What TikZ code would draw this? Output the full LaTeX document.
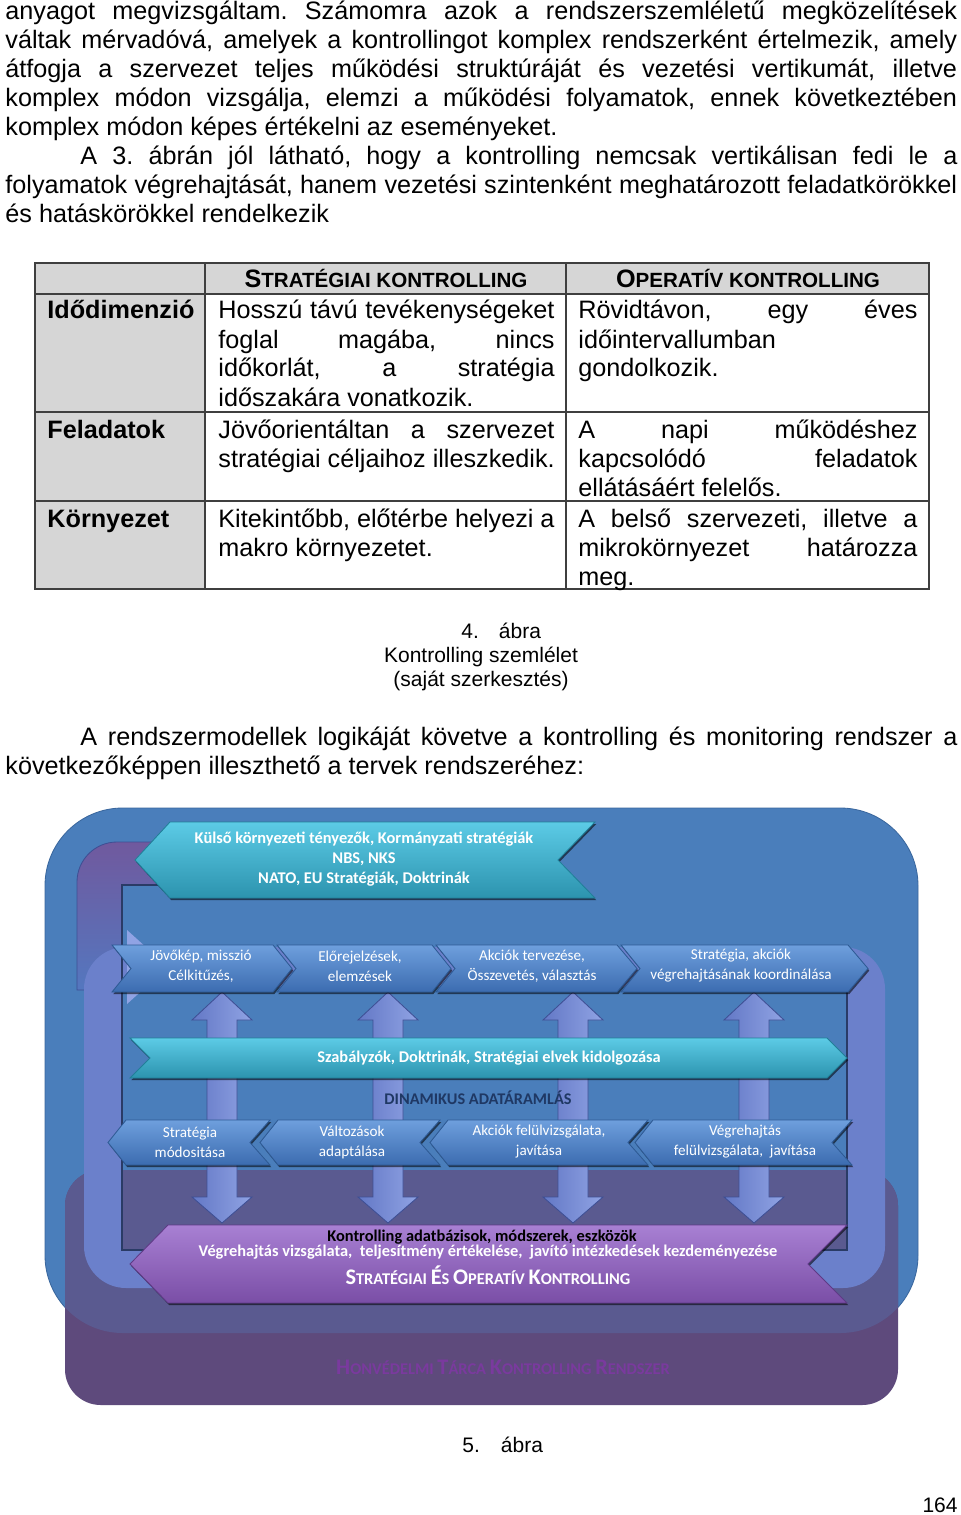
\documentclass[tikz,border=0pt]{standalone}
\usepackage{fontspec}
\setmainfont{Liberation Sans}
\newfontfamily\calibri{Carlito}
\usetikzlibrary{shadows}
\frenchspacing

% colours of the page
\definecolor{cellgray}{HTML}{D6D6D6}
\definecolor{gridline}{HTML}{3F3F3F}
\definecolor{frameblue}{HTML}{4A7EBB}
\definecolor{frameedge}{HTML}{3A679E}
\definecolor{framepurple}{HTML}{5E4A7C}
\definecolor{mixblue}{HTML}{5A5A90}
\definecolor{loopband}{HTML}{6B80CB}
\definecolor{bandedge}{HTML}{3E4F94}
\definecolor{bandviolet}{HTML}{70599E}
\definecolor{bandblue}{HTML}{5477BF}
\definecolor{innerline}{HTML}{2A3B66}
\definecolor{chevtop}{HTML}{6E9FDD}
\definecolor{chevbot}{HTML}{3C6CB0}
\definecolor{chevedge}{HTML}{2E5A94}
\definecolor{cyantop}{HTML}{5CCBE6}
\definecolor{cyanbot}{HTML}{2C93AE}
\definecolor{cyanedge}{HTML}{217F98}
\definecolor{purptop}{HTML}{A880D3}
\definecolor{purpbot}{HTML}{7A4EA6}
\definecolor{purpedge}{HTML}{5E3A86}
\definecolor{arrowleft}{HTML}{6378C6}
\definecolor{arrowright}{HTML}{90A3E4}
\definecolor{navytext}{HTML}{1F3864}
\definecolor{honvedcolor}{HTML}{7A3A9E}

\newlength\bodyw \setlength\bodyw{453pt}
\newlength\indw \setlength\indw{417.5pt}
\newlength\cellw \setlength\cellw{160pt}
\newlength\cellv \setlength\cellv{161.4pt}
% one justified line of a fixed width
\newcommand\fullline[2]{{\spaceskip=.278em plus 1fil minus .08em\relax\hbox to #1{#2}}}
% small capitals made by hand
\newcommand\tabsc[2]{{\fontsize{12pt}{12pt}\selectfont#1}{\fontsize{9.8pt}{12pt}\selectfont#2}}
\newcommand\dgsc[2]{{\fontsize{10.6pt}{11pt}\selectfont#1}{\fontsize{7.8pt}{11pt}\selectfont#2}}

\tikzset{
  bodytext/.style={anchor=base west, inner sep=0pt, font={\fontsize{12pt}{13.8pt}\selectfont}},
  rowlabel/.style={bodytext, font={\fontsize{12pt}{13.8pt}\selectfont\bfseries}},
  headtext/.style={anchor=base, inner sep=0pt, font=\bfseries},
  captext/.style={anchor=base, inner sep=0pt, font={\fontsize{10pt}{11.5pt}\selectfont}},
  chevtext/.style={text=white, align=center, inner sep=0pt, font={\calibri\fontsize{7.2pt}{9.5pt}\selectfont}},
  bartext/.style={text=white, align=center, inner sep=0pt, font={\calibri\bfseries\fontsize{7.8pt}{9.5pt}\selectfont}},
  softshadow/.style={drop shadow={shadow xshift=0.6pt, shadow yshift=-1pt, fill=black, opacity=0.55}},
  chevron/.style={softshadow, top color=chevtop, bottom color=chevbot, draw=chevedge, line width=0.4pt},
  cyanbar/.style={softshadow, top color=cyantop, bottom color=cyanbot, draw=cyanedge, line width=0.4pt},
  purplebar/.style={softshadow, top color=purptop, bottom color=purpbot, draw=purpedge, line width=0.4pt},
  flowarrow/.style={left color=arrowleft, right color=arrowright, draw=bandedge, line width=0.4pt},
}

\begin{document}
\begin{tikzpicture}[x=0.476pt, y=-0.476pt]
    \useasboundingbox (0,0) rectangle (960,1515);
    \fill[white] (0,0) rectangle (960,1515);

    % Text above the table
    \node[bodytext] (p1a) at (5,20) {\fullline{\bodyw}{anyagot megvizsgáltam. Számomra azok a rendszerszemléletű megközelítések}};
    \node[bodytext] (p1b) at (5,49) {\fullline{\bodyw}{váltak mérvadóvá, amelyek a kontrollingot komplex rendszerként értelmezik, amely}};
    \node[bodytext] (p1c) at (5,78) {\fullline{\bodyw}{átfogja a szervezet teljes működési struktúráját és vezetési vertikumát, illetve}};
    \node[bodytext] (p1d) at (5,107) {\fullline{\bodyw}{komplex módon vizsgálja, elemzi a működési folyamatok, ennek következtében}};
    \node[bodytext] (p1e) at (5,136) {komplex módon képes értékelni az eseményeket.};
    \node[bodytext] (p2a) at (80,165) {\fullline{\indw}{A 3. ábrán jól látható, hogy a kontrolling nemcsak vertikálisan fedi le a}};
    \node[bodytext] (p2b) at (5,194) {\fullline{\bodyw}{folyamatok végrehajtását, hanem vezetési szintenként meghatározott feladatkörökkel}};
    \node[bodytext] (p2c) at (5,223) {és hatáskörökkel rendelkezik};

    % Table: grey cells and grid
    \fill[cellgray] (35,263) rectangle (205,589);
    \fill[cellgray] (205,263) rectangle (929,294);
    \draw[gridline, line width=0.7pt] (35,263) rectangle (929,589);
    \draw[gridline, line width=0.7pt] (35,294) -- (929,294) (35,412) -- (929,412) (35,501) -- (929,501);
    \draw[gridline, line width=0.7pt] (205,263) -- (205,589) (566,263) -- (566,589);

    % Table header and row labels
    \node[headtext] (hstrat) at (386,288) {\tabsc{S}{TRATÉGIAI KONTROLLING}};
    \node[headtext] (hoper) at (748,288) {\tabsc{O}{PERATÍV KONTROLLING}};
    \node[rowlabel] (lido) at (47,319) {Idődimenzió};
    \node[rowlabel] (lfel) at (47,438) {Feladatok};
    \node[rowlabel] (lkor) at (47,527) {Környezet};

    % Table: strategic column
    \node[bodytext] (s1a) at (218,319) {\fullline{\cellw}{Hosszú távú tevékenységeket}};
    \node[bodytext] (s1b) at (218,348) {\fullline{\cellw}{foglal magába, nincs}};
    \node[bodytext] (s1c) at (218,377) {\fullline{\cellw}{időkorlát, a stratégia}};
    \node[bodytext] (s1d) at (218,406) {időszakára vonatkozik.};
    \node[bodytext] (s2a) at (218,438) {\fullline{\cellw}{Jövőorientáltan a szervezet}};
    \node[bodytext] (s2b) at (218,467) {stratégiai céljaihoz illeszkedik.};
    \node[bodytext] (s3a) at (218,527) {\fullline{\cellw}{Kitekintőbb, előtérbe helyezi a}};
    \node[bodytext] (s3b) at (218,556) {makro környezetet.};

    % Table: operative column
    \node[bodytext] (o1a) at (578,319) {\fullline{\cellv}{Rövidtávon, egy éves}};
    \node[bodytext] (o1b) at (578,348) {időintervallumban};
    \node[bodytext] (o1c) at (578,377) {gondolkozik.};
    \node[bodytext] (o2a) at (578,438) {\fullline{\cellv}{A napi működéshez}};
    \node[bodytext] (o2b) at (578,467) {\fullline{\cellv}{kapcsolódó feladatok}};
    \node[bodytext] (o2c) at (578,496) {ellátásáért felelős.};
    \node[bodytext] (o3a) at (578,527) {\fullline{\cellv}{A belső szervezeti, illetve a}};
    \node[bodytext] (o3b) at (578,556) {\fullline{\cellv}{mikrokörnyezet határozza}};
    \node[bodytext] (o3c) at (578,585) {meg.};

    % Caption of the table
    \node[captext, anchor=base west] (cap4) at (461,638) {4.\hspace{9.5pt}ábra};
    \node[captext] (cap4b) at (481,662) {Kontrolling szemlélet};
    \node[captext] (cap4c) at (481,686) {(saját szerkesztés)};

    % Text above the diagram
    \node[bodytext] (p3a) at (80,745) {\fullline{\indw}{A rendszermodellek logikáját követve a kontrolling és monitoring rendszer a}};
    \node[bodytext] (p3b) at (5,774) {következőképpen illeszthető a tervek rendszeréhez:};

    % Diagram: blue and purple frames
    \filldraw[frameblue, draw=frameedge, rounded corners=37pt] (45,808) rectangle (918,1333);
    \fill[framepurple, rounded corners=17pt] (65,1170) rectangle (898,1405);
    \begin{scope}
        \clip[rounded corners=17pt] (65,1170) rectangle (898,1405);
        \fill[mixblue, rounded corners=37pt] (45,808) rectangle (918,1333);
    \end{scope}

    % Band coming down from the outer factors
    \shade[top color=bandviolet, bottom color=bandblue, draw=bandedge, line width=0.4pt] (190,842) -- (117,842) arc[start angle=270, end angle=180, radius=40] -- (77,990) -- (122,990) -- (122,885) -- (190,885) -- cycle;

    % Loop band round the cycle
    \fill[loopband, even odd rule, rounded corners=20pt] (84,947) rectangle (885,1288) [sharp corners] (122,987) rectangle (847,1250);
    \draw[innerline, line width=0.8pt] (190,885) -- (122,885) -- (122,1250) -- (847,1250) -- (847,990);
    \fill[arrowright] (127,930) -- (168,967) -- (127,1004) -- cycle;

    % Vertical data flow arrows
    \foreach \c in {222,388,573,754}{
        \path[flowarrow] (\c,992) -- ({\c+30},1020) -- ({\c+15},1020) -- ({\c+15},1197) -- ({\c+30},1197) -- (\c,1223) -- ({\c-30},1197) -- ({\c-15},1197) -- ({\c-15},1020) -- ({\c-30},1020) -- cycle;
    }

    % Outer factors
    \path[cyanbar] (170,822) -- (595,822) -- (558,860) -- (595,898) -- (170,898) -- (135,860) -- cycle;
    \node[bartext] (kulso) at (364,859) {Külső környezeti tényezők, Kormányzati stratégiák\\NBS, NKS\\NATO, EU Stratégiák, Doktrinák};

    % Planning steps (pointing right)
    \path[chevron] (112,945) -- (273,945) -- (292,968.5) -- (273,992) -- (112,992) -- (131,968.5) -- cycle;
    \path[chevron] (277,945) -- (432,945) -- (451,968.5) -- (432,992) -- (277,992) -- (296,968.5) -- cycle;
    \path[chevron] (436,945) -- (617,945) -- (637,968.5) -- (617,992) -- (436,992) -- (455,968.5) -- cycle;
    \path[chevron] (621,945) -- (848,945) -- (868,968.5) -- (848,992) -- (621,992) -- (640,968.5) -- cycle;
    \node[chevtext] (jovokep) at (201,966) {Jövőkép, misszió\\Célkitűzés,};
    \node[chevtext] (elorejelzes) at (360,966) {Előrejelzések,\\elemzések};
    \node[chevtext] (akciok) at (532,966) {Akciók tervezése,\\Összevetés, választás};
    \node[chevtext] (koordinalas) at (741,966) {Stratégia, akciók\\végrehajtásának koordinálása};

    % Rules and doctrines
    \path[cyanbar] (130,1038) -- (827,1038) -- (847,1058) -- (827,1078) -- (130,1078) -- (150,1058) -- cycle;
    \node[bartext] (szabalyzok) at (489,1058) {Szabályzók, Doktrinák, Stratégiai elvek kidolgozása};
    \node[text=navytext, inner sep=0pt, font={\calibri\bfseries\fontsize{7.75pt}{9pt}\selectfont}] (dinamikus) at (478,1098) {DINAMIKUS ADATÁRAMLÁS};

    % Review steps (pointing left)
    \path[chevron] (126,1120) -- (270,1120) -- (250,1142.5) -- (270,1165) -- (126,1165) -- (108,1142.5) -- cycle;
    \path[chevron] (278,1120) -- (440,1120) -- (420,1142.5) -- (440,1165) -- (278,1165) -- (260,1142.5) -- cycle;
    \path[chevron] (448,1120) -- (648,1120) -- (628,1142.5) -- (648,1165) -- (448,1165) -- (430,1142.5) -- cycle;
    \path[chevron] (653,1120) -- (852,1120) -- (832,1142.5) -- (852,1165) -- (653,1165) -- (635,1142.5) -- cycle;
    \node[chevtext] (modositas) at (190,1142) {Stratégia\\módositása};
    \node[chevtext] (valtozasok) at (352,1142) {Változások\\adaptálása};
    \node[chevtext] (felulvizsgalat) at (539,1142) {Akciók felülvizsgálata,\\javítása};
    \node[chevtext] (vegrehajtas) at (745,1142) {Végrehajtás\\felülvizsgálata,\ \ javítása};

    % Controlling
    \path[purplebar] (168,1225) -- (847,1225) -- (808,1264) -- (847,1303) -- (168,1303) -- (130,1264) -- cycle;
    \node[bartext, text=black] (kontra) at (482,1237) {Kontrolling adatbázisok, módszerek, eszközök};
    \node[bartext] (kontrb) at (488,1252) {Végrehajtás vizsgálata,\ \ teljesítmény értékelése,\ \ javító intézkedések kezdeményezése};
    \node[bartext] (kontrc) at (488,1275) {\dgsc{S}{TRATÉGIAI} \dgsc{É}{S} \dgsc{O}{PERATÍV} \dgsc{K}{ONTROLLING}};
    \node[bartext, text=honvedcolor] (honvedelmi) at (503,1367) {\dgsc{H}{ONVÉDELMI} \dgsc{T}{ÁRCA} \dgsc{K}{ONTROLLING} \dgsc{R}{ENDSZER}};

    % Caption and page number
    \node[captext, anchor=base west] (cap5) at (462,1452) {5.\hspace{10pt}ábra};
    \node[captext, anchor=base east] (pagenum) at (958,1512) {164};
\end{tikzpicture}
\end{document}
